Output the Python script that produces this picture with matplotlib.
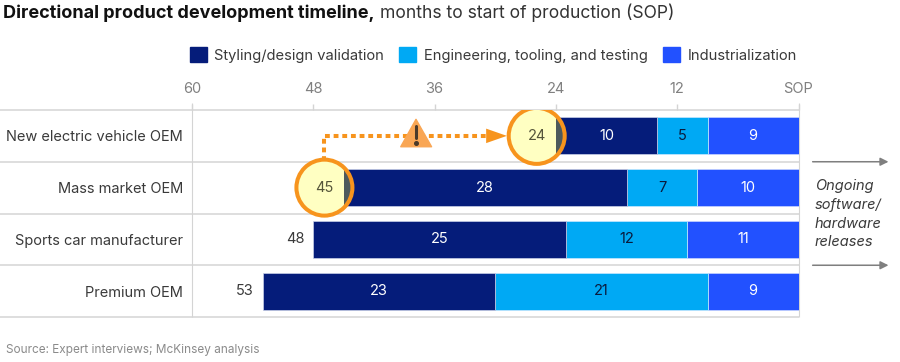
import matplotlib
matplotlib.use("Agg")
import matplotlib.pyplot as plt
from matplotlib.patches import Ellipse, Polygon, Rectangle, Patch

plt.rcParams['font.family'] = ['Inter', 'DejaVu Sans']

categories = ["New electric vehicle OEM", "Mass market OEM", "Sports car manufacturer", "Premium OEM"]
styling = [10, 28, 25, 23]
engineering = [5, 7, 12, 21]
industrial = [9, 10, 11, 9]
totals = [24, 45, 48, 53]
series_names = ["Styling/design validation", "Engineering, tooling, and testing", "Industrialization"]
tick_values = [60, 48, 36, 24, 12, 0]
tick_labels = ["60", "48", "36", "24", "12", "SOP"]

NAVY = "#051c7a"
CYAN = "#00a9f4"
BLUE = "#2251ff"
GRID = "#d4d4d4"
ORANGE = "#f7941d"
YELLOW = "#ffffc2"

W, H = 900, 362
fig = plt.figure(figsize=(9, 3.62), dpi=100)
ax = fig.add_axes([192 / W, 1 - 317 / H, 606.5 / W, 207 / H])
ax.set_xlim(60, 0)
ax.set_ylim(4, 0)
rows = [0.5, 1.5, 2.5, 3.5]
bar_h = 37 / 51.75

# stacked bars, counted down to SOP
for i in range(4):
    ax.barh(rows[i], industrial[i], left=0, height=bar_h, color=BLUE, edgecolor="#c8d4ff", linewidth=0.5, zorder=3)
    ax.barh(rows[i], engineering[i], left=industrial[i], height=bar_h, color=CYAN, edgecolor="#c8e8ff", linewidth=0.5, zorder=3)
    ax.barh(rows[i], styling[i], left=industrial[i] + engineering[i], height=bar_h, color=NAVY, edgecolor="#c8d0e8", linewidth=0.5, zorder=3)
    ax.text(totals[i] - styling[i] / 2, rows[i], str(styling[i]), color="white", ha="center", va="center", fontsize=10.5, zorder=4)
    ax.text(industrial[i] + engineering[i] / 2, rows[i], str(engineering[i]), color="#0a1a3c", ha="center", va="center", fontsize=10.5, zorder=4)
    ax.text(industrial[i] / 2, rows[i], str(industrial[i]), color="white", ha="center", va="center", fontsize=10.5, zorder=4)

# grid lines, running out to the left edge
ax.hlines([0, 1, 2, 3, 4], 60 + 192 / 10.108, 0, color=GRID, linewidth=1.1, clip_on=False, zorder=1)
ax.vlines([60, 0], -0.14, 4, color=GRID, linewidth=0.8, clip_on=False, zorder=1)

ax.xaxis.tick_top()
ax.set_xticks(tick_values)
ax.set_xticklabels(tick_labels, color="#808080", fontsize=10.5)
ax.tick_params(axis="x", length=4, width=1, color=GRID, pad=6)
ax.set_yticks(rows)
ax.set_yticklabels(categories, color="#3a3a3a", fontsize=10.5)
ax.tick_params(axis="y", length=0, pad=6.5)
for s in ax.spines.values():
    s.set_visible(False)

# totals for the two rows without a circle
for i in (2, 3):
    ax.text(totals[i] + 0.9, rows[i], str(totals[i]), color="#3a3a3a", ha="right", va="center", fontsize=10.5)

# highlighted start points
rx = 28 / 10.108
ry = 28 / 51.75
for i in (0, 1):
    cx = totals[i] + 1.9
    ax.add_patch(Ellipse((cx, rows[i]), 2 * rx, 2 * ry, facecolor=YELLOW, edgecolor="none", zorder=5))
    clip = Ellipse((cx, rows[i]), 2 * rx, 2 * ry, transform=ax.transData)
    dark = Rectangle((totals[i] - 1, rows[i] - bar_h / 2), 1, bar_h, facecolor="#4d5a5c", edgecolor="none", zorder=6)
    ax.add_patch(dark)
    dark.set_clip_path(clip)
    ax.add_patch(Ellipse((cx, rows[i]), 2 * rx, 2 * ry, facecolor="none", edgecolor=ORANGE, linewidth=2.9, zorder=7))
    ax.text(cx, rows[i], str(totals[i]), color="#55553a", ha="center", va="center", fontsize=10.5, zorder=8)

# dotted connector with arrow and warning sign
start_x = totals[1] + 1.9
ax.plot([start_x, start_x, 30.9], [0.98, 0.5, 0.5], color=ORANGE, linewidth=2.9, linestyle=(0, (1.2, 0.95)), zorder=4)
ax.add_patch(Polygon([[30.9, 0.36], [30.9, 0.64], [28.85, 0.5]], closed=True, facecolor=ORANGE, edgecolor="none", zorder=4))
ax.add_patch(Polygon([[39.35, 0.71], [37.84, 0.18], [36.3, 0.71]], closed=True, facecolor="#f9a654", edgecolor="#f9a654", linewidth=1, joinstyle="round", zorder=5))
ax.plot([37.84, 37.84], [0.3, 0.55], color="#4a3a2a", linewidth=2.2, solid_capstyle="round", zorder=6)
ax.plot([37.84], [0.64], marker="o", markersize=2.6, color="#4a3a2a", zorder=6)

# ongoing releases
for y in (1, 3):
    ax.annotate("", xy=(-8.9, y), xytext=(-1.4, y), annotation_clip=False,
                arrowprops=dict(arrowstyle="-|>", color="#7f7f7f", lw=1.1, shrinkA=0, shrinkB=0, mutation_scale=12))
for y, line in zip([186, 204.5, 223.5, 242], ["Ongoing", "software/", "hardware", "releases"]):
    fig.text(815 / W, 1 - y / H, line, color="#3a3a3a", style="italic", fontsize=10.5, va="center", ha="left")

# title, bold part then regular part
title = fig.text(3 / W, 1 - 13 / H, "Directional product development timeline,", fontweight="bold", fontsize=13, color="#111111", va="center")
fig.canvas.draw()
box = title.get_window_extent()
fig.text((box.x1 + 5) / W, 1 - 13 / H, "months to start of production (SOP)", fontsize=12.6, color="#333333", va="center")

handles = [Patch(color=c) for c in (NAVY, CYAN, BLUE)]
fig.legend(handles, series_names, loc="center left", bbox_to_anchor=(176.5 / W, 1 - 55 / H), ncol=3, frameon=False,
           fontsize=10.6, handlelength=1.15, handleheight=1.15, handletextpad=0.5, columnspacing=1.05, labelcolor="#3a3a3a")

fig.text(6 / W, 1 - 350 / H, "Source: Expert interviews; McKinsey analysis", color="#8a8a8a", fontsize=8.5, va="center")

fig.savefig("out.png", dpi=100)
